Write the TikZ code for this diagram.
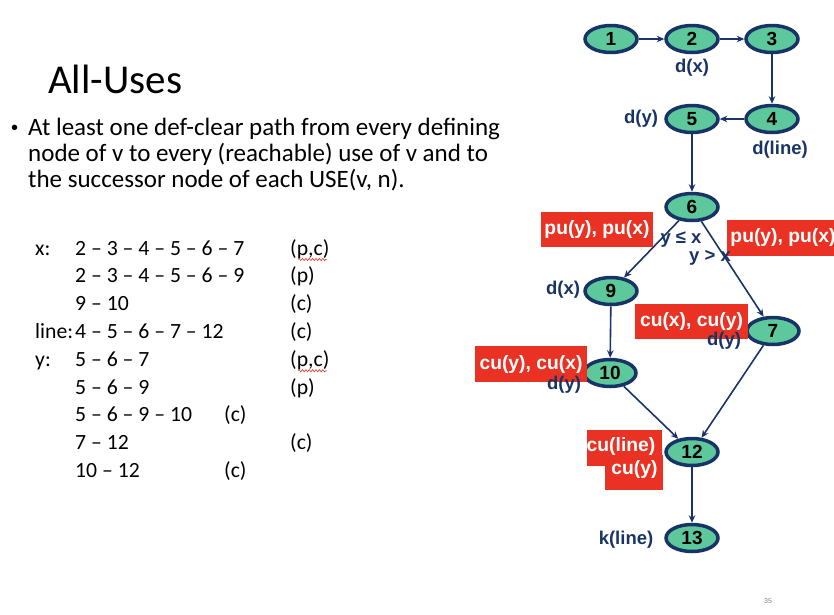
\documentclass[tikz,border=0pt]{standalone}
\usepackage{fontspec}
\setmainfont{Carlito}
\newfontfamily\arialf{Liberation Sans}
\usetikzlibrary{shapes.geometric,arrows.meta,decorations.pathmorphing,calc}
\definecolor{navy}{RGB}{24,52,102}
\definecolor{mint}{RGB}{92,200,155}
\definecolor{tagred}{RGB}{233,50,35}
\definecolor{pagegray}{RGB}{130,130,130}

\begin{document}
\begin{tikzpicture}[x=1pt,y=-1pt,
  vertex/.style={ellipse, draw=navy, line width=3.5pt, fill=mint, minimum width=52pt,
    minimum height=27pt, inner sep=0pt, font=\arialf\bfseries\fontsize{19}{19}\selectfont},
  flow/.style={draw=navy, line width=1.6pt, -{Stealth[length=7.5pt,width=6.5pt]}},
  note/.style={text=navy, inner sep=0pt, font=\arialf\bfseries\fontsize{18.5}{19}\selectfont},
  tagbox/.style={fill=tagred, inner sep=0pt},
  tagtext/.style={text=white, inner sep=0pt, font=\arialf\bfseries\fontsize{19.3}{19}\selectfont},
  body/.style={anchor=base west, inner sep=0pt, font=\fontsize{25}{26}\selectfont},
  listing/.style={anchor=base west, inner sep=0pt, font=\fontsize{21.7}{25}\selectfont},
  spell/.style={draw=tagred, line width=0.6pt, decorate,
    decoration={snake, amplitude=1.1pt, segment length=3.4pt}},
]
\useasboundingbox (0,0) rectangle (834,614);
\clip (0,0) rectangle (834,614);

% ---- slide text ----
\node[anchor=base west, inner sep=0pt, font=\fontsize{41}{41}\selectfont] (title) at (48,93) {All-Uses};
\node[anchor=base west, inner sep=0pt, font=\arialf\fontsize{20}{20}\selectfont] (bullet) at (11,134) {•};
\node[body] (b1) at (28,135) {At least one def-clear path from every defining};
\node[body] (b2) at (28,161) {node of v to every (reachable) use of v and to};
\node[body] (b3) at (28,187) {the successor node of each USE(v, n).};

% ---- path list ----
\node[listing] (lx) at (35,255) {x:};
\node[listing] (s1) at (75,255) {2 -- 3 -- 4 -- 5 -- 6 -- 7};
\node[listing] (k1) at (290,255) {(p,c)};
\node[listing] (s2) at (75,282.8) {2 -- 3 -- 4 -- 5 -- 6 -- 9};
\node[listing] (k2) at (290,282.8) {(p)};
\node[listing] (s3) at (75,310.6) {9 -- 10};
\node[listing] (k3) at (290,310.6) {(c)};
\node[listing] (ll) at (35,338.4) {line:};
\node[listing] (s4) at (75,338.4) {4 -- 5 -- 6 -- 7 -- 12};
\node[listing] (k4) at (290,338.4) {(c)};
\node[listing] (ly) at (35,366.2) {y:};
\node[listing] (s5) at (75,366.2) {5 -- 6 -- 7};
\node[listing] (k5) at (290,366.2) {(p,c)};
\node[listing] (s6) at (75,394) {5 -- 6 -- 9};
\node[listing] (k6) at (290,394) {(p)};
\node[listing] (s7) at (75,421.8) {5 -- 6 -- 9 -- 10};
\node[listing] (k7) at (224,421.8) {(c)};
\node[listing] (s8) at (75,449.6) {7 -- 12};
\node[listing] (k8) at (290,449.6) {(c)};
\node[listing] (s9) at (75,477.4) {10 -- 12};
\node[listing] (k9) at (224,477.4) {(c)};

% spell-check squiggles under "p,c"
\draw[spell] ($(k1.base west)+(8,4.5)$) -- ($(k1.base east)+(-3,4.5)$);
\draw[spell] ($(k5.base west)+(8,4.5)$) -- ($(k5.base east)+(-3,4.5)$);

% ---- flow graph nodes ----
\node[vertex] (n1) at (611,39) {1};
\node[vertex] (n2) at (692,39) {2};
\node[vertex] (n3) at (772,39) {3};
\node[vertex] (n4) at (772,119) {4};
\node[vertex] (n5) at (692,119) {5};
\node[vertex] (n6) at (692,207) {6};
\node[vertex] (n9) at (611,291) {9};
\node[vertex] (n7) at (773,331) {7};
\node[vertex] (n10) at (610,373) {10};
\node[vertex] (n12) at (692,452) {12};
\node[vertex] (n13) at (692,538) {13};

% ---- edges ----
\draw[flow] (n1) -- (n2);
\draw[flow] (n2) -- (n3);
\draw[flow] (n3) -- (n4);
\draw[flow] (n4) -- (n5);
\draw[flow] (n5) -- (n6);
\draw[flow] (n6) -- (n9);
\draw[flow] (n6) -- (n7);
\draw[flow] (n9) -- (n10);
\draw[flow] (n7) -- (n12);
\draw[flow] (n10) -- (n12);
\draw[flow] (n12) -- (n13);

% ---- use tags ----
\node[tagbox, minimum width=112pt, minimum height=35pt] (t6l) at (597,229.5) {};
\node[tagtext] at (t6l) {pu(y), pu(x)};
\node[tagbox, minimum width=112pt, minimum height=36pt] (t6r) at (783,238) {};
\node[tagtext] at (t6r) {pu(y), pu(x)};
\node[tagbox, minimum width=113pt, minimum height=35pt] (t7) at (691.5,321.5) {};
\node[tagtext] at (t7) {cu(x), cu(y)};
\node[tagbox, minimum width=112pt, minimum height=36pt] (t10) at (531,364) {};
\node[tagtext] at (t10) {cu(y), cu(x)};
\node[tagbox, minimum width=75pt, minimum height=36pt] (t12a) at (624.5,448) {};
\node[tagbox, minimum width=58pt, minimum height=35pt] (t12b) at (634,472.5) {};
\node[tagtext] at (621,446) {cu(line)};
\node[tagtext] at (634.5,469) {cu(y)};

% ---- definition / kill labels ----
\node[note] (l2) at (692,68) {d(x)};
\node[note] (l5) at (641,119) {d(y)};
\node[note] (l4) at (780,150) {d(line)};
\node[note] (l9) at (563,290) {d(x)};
\node[note] (l7) at (724,341) {d(y)};
\node[note] (l10) at (564,385) {d(y)};
\node[note] (l13) at (626,540) {k(line)};
\node[note] (c1) at (681,240) {y ≤ x};
\node[note] (c2) at (710,258) {y > x};

% page number
\node[text=pagegray, inner sep=0pt, font=\arialf\fontsize{7}{7}\selectfont] (pg) at (768,601) {35};
\end{tikzpicture}
\end{document}
